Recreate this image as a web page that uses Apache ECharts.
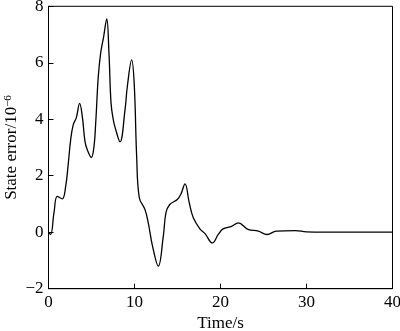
<!DOCTYPE html>
<html>
<head>
<meta charset="utf-8">
<script src="https://cdn.jsdelivr.net/npm/echarts@6/dist/echarts.min.js"></script>
<style>
  html, body { margin: 0; padding: 0; background: #fff; }
  #chart { width: 400px; height: 331px; }
</style>
</head>
<body>
<div id="chart"></div>
<script>
// time (s) and state error (x 10^-6)
const times = [0, 0.25, 0.64, 1.02, 1.6, 2.0, 2.27, 2.58, 2.88, 3.23, 3.62, 3.93, 4.24, 4.5, 4.98,
  5.29, 5.49, 5.79, 6.07, 6.4, 6.77, 7.03, 7.27, 7.53, 7.8, 8.31, 8.9, 9.17, 9.67, 9.98, 10.25,
  10.56, 11.22, 11.6, 12.1, 12.77, 13.35, 13.66, 14.1, 14.98, 15.4, 15.87, 16.37, 16.84, 17.6,
  18.2, 19.05, 19.74, 20.3, 21.3, 22.07, 23.2, 24.4, 25.4, 26.5, 28.7, 30, 32, 35, 40];
const errors = [0, -0.08, 0.69, 1.27, 1.18, 1.63, 2.34, 3.28, 3.81, 4.05, 4.56, 4.1, 3.22, 2.93, 2.65,
  3.04, 3.87, 5.52, 6.35, 6.9, 7.55, 6.35, 4.58, 3.99, 3.65, 3.2, 4.34, 5.17, 6.1, 5.17, 2.69,
  1.22, 0.8, 0.33, -0.5, -1.2, -0.14, 0.69, 0.98, 1.16, 1.35, 1.71, 1.04, 0.51, 0.12,
  -0.05, -0.38, -0.08, 0.12, 0.21, 0.33, 0.1, 0.04, -0.08, 0.04, 0.06, 0.01, 0, 0, 0];
const xTicks = [0, 10, 20, 30, 40];
const yTicks = [-2, 0, 2, 4, 6, 8];

const chart = echarts.init(document.getElementById('chart'));
const font = 'Liberation Serif';

chart.setOption({
  animation: false,
  backgroundColor: '#fff',
  grid: {
    left: 48.5,
    right: 7.5,
    top: 6.3,
    bottom: 42.3,
    containLabel: false,
    outerBoundsMode: 'none',
    show: true,
    borderColor: '#000',
    borderWidth: 1,
  },
  xAxis: {
    type: 'value',
    min: xTicks[0],
    max: xTicks[xTicks.length - 1],
    interval: 10,
    name: 'Time/s',
    nameLocation: 'middle',
    nameGap: 26,
    nameMoveOverlap: false,
    nameTextStyle: { color: '#000', fontFamily: font, fontSize: 17 },
    axisLine: { onZero: false, lineStyle: { color: '#000', width: 1 } },
    axisTick: { inside: true, length: 5, lineStyle: { color: '#000' } },
    axisLabel: { color: '#000', fontFamily: font, fontSize: 17, margin: 5 },
    splitLine: { show: false },
  },
  yAxis: {
    type: 'value',
    min: yTicks[0],
    max: yTicks[yTicks.length - 1],
    interval: 2,
    name: '{a|State error/10}{s|−6}',
    nameLocation: 'middle',
    nameGap: 27,
    nameMoveOverlap: false,
    nameRotate: 90,
    nameTextStyle: {
      rich: {
        a: { color: '#000', fontFamily: font, fontSize: 17 },
        s: { color: '#000', fontFamily: font, fontSize: 11, verticalAlign: 'top', padding: [0, 0, 8, 0] },
      },
    },
    axisLine: { onZero: false, lineStyle: { color: '#000', width: 1 } },
    axisTick: { inside: true, length: 5, lineStyle: { color: '#000' } },
    axisLabel: {
      color: '#000', fontFamily: font, fontSize: 17, margin: 5,
      formatter: (v) => (v < 0 ? '−' + Math.abs(v) : String(v)),
    },
    splitLine: { show: false },
  },
  series: [
    {
      type: 'line',
      data: times.map((t, i) => [t, errors[i]]),
      smooth: 0.4,
      symbol: 'none',
      lineStyle: { color: '#000', width: 1.3 },
    },
  ],
});
</script>
</body>
</html>
